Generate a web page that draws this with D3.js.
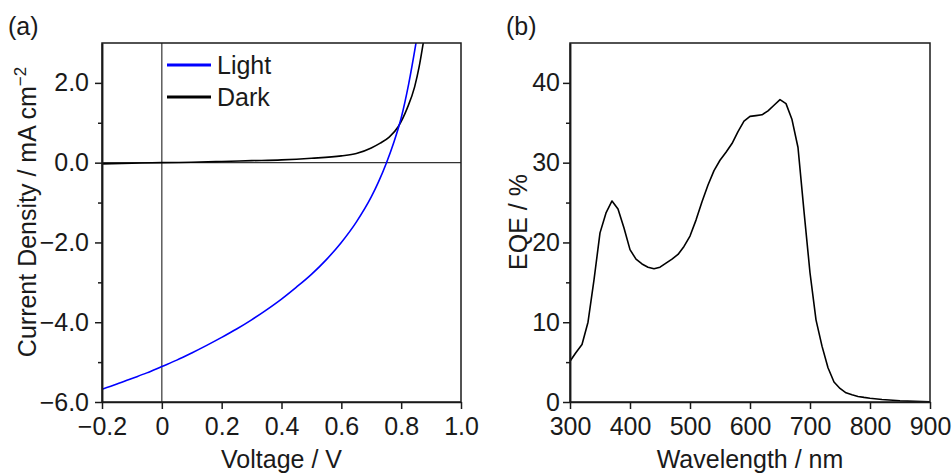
<!DOCTYPE html>
<html>
<head>
<meta charset="utf-8">
<script src="https://cdn.jsdelivr.net/npm/d3@7"></script>
<style>
  html, body { margin: 0; padding: 0; background: #fff; }
  svg text { font-family: "Liberation Sans", Arial, Helvetica, sans-serif; fill: #1a1a1a; }
</style>
</head>
<body>
<svg id="fig" width="952" height="473"></svg>
<script>
// ---- (a) J–V curves ----
const vLight = [-0.20, -0.15, -0.10, -0.05, 0.00, 0.05, 0.10, 0.15, 0.20, 0.25, 0.30, 0.35, 0.40, 0.45, 0.50, 0.55, 0.60, 0.65, 0.70, 0.725, 0.75, 0.775, 0.80, 0.825, 0.85, 0.875];
const jLight = [-5.68, -5.55, -5.41, -5.27, -5.11, -4.95, -4.77, -4.58, -4.38, -4.17, -3.94, -3.69, -3.42, -3.12, -2.80, -2.43, -2.00, -1.49, -0.86, -0.47, -0.02, 0.50, 1.12, 1.97, 3.02, 4.20];
const vDark = [-0.20, -0.10, 0.00, 0.10, 0.20, 0.30, 0.40, 0.50, 0.60, 0.65, 0.70, 0.73, 0.76, 0.79, 0.82, 0.845, 0.86, 0.875, 0.89];
const jDark = [-0.03, -0.015, 0.00, 0.01, 0.03, 0.05, 0.07, 0.11, 0.17, 0.23, 0.37, 0.49, 0.64, 0.90, 1.36, 1.90, 2.40, 3.05, 3.70];
const voltTicks = [-0.2, 0, 0.2, 0.4, 0.6, 0.8, 1.0];
const jTicks = [-6, -4, -2, 0, 2];
const jMinorTicks = [-5, -3, -1, 1];
const jvSeries = ["Light", "Dark"];
const jvColors = ["#0000ff", "#000000"];

// ---- (b) EQE spectrum ----
const wavelength = [300, 310, 320, 330, 340, 350, 360, 370, 380, 390, 400, 410, 420, 430, 440, 450, 460, 470, 480, 490, 500, 510, 520, 530, 540, 550, 560, 570, 580, 590, 600, 610, 620, 630, 640, 650, 660, 670, 680, 690, 700, 710, 720, 730, 740, 750, 760, 770, 780, 790, 800, 820, 850, 875, 900];
const eqe = [5.1, 6.2, 7.2, 10.0, 15.3, 21.2, 23.7, 25.2, 24.2, 21.8, 19.1, 17.9, 17.3, 16.9, 16.7, 16.9, 17.4, 17.9, 18.5, 19.5, 20.8, 22.8, 25.1, 27.2, 29.0, 30.3, 31.3, 32.4, 33.9, 35.2, 35.8, 35.9, 36.0, 36.5, 37.2, 37.9, 37.4, 35.4, 31.9, 23.9, 16.2, 10.3, 7.0, 4.3, 2.5, 1.7, 1.15, 0.9, 0.7, 0.58, 0.48, 0.32, 0.16, 0.08, 0.04];
const wlTicks = [300, 400, 500, 600, 700, 800, 900];
const eqeTicks = [0, 10, 20, 30, 40];
const eqeMinorTicks = [5, 15, 25, 35];

const svg = d3.select("#fig");
const FS = 25;
const ink = "#1a1a1a";

function styleAxis(g) {
  g.selectAll("path").attr("stroke", ink).attr("stroke-width", 1.5);
  g.selectAll("line").attr("stroke", ink).attr("stroke-width", 1.5);
  g.selectAll("text").attr("font-size", FS).attr("fill", ink);
}

function frame(g, w, h) {
  g.append("rect").attr("x", 0).attr("y", 0).attr("width", w).attr("height", h)
    .attr("fill", "none").attr("stroke", ink).attr("stroke-width", 1.5);
}

const minus = s => s.replace("-", "\u2212");

// ================= Panel (a) =================
{
  const L = 102, T = 43, W = 359, H = 359;
  const g = svg.append("g").attr("transform", `translate(${L},${T})`);
  const x = d3.scaleLinear().domain([-0.2, 1.0]).range([0, W]);
  const y = d3.scaleLinear().domain([-6, 3]).range([H, 0]);

  g.append("clipPath").attr("id", "clipA")
    .append("rect").attr("width", W).attr("height", H);

  // zero reference lines
  g.append("line").attr("x1", 0).attr("x2", W).attr("y1", y(0)).attr("y2", y(0))
    .attr("stroke", "#333").attr("stroke-width", 1.2);
  g.append("line").attr("x1", x(0)).attr("x2", x(0)).attr("y1", 0).attr("y2", H)
    .attr("stroke", "#333").attr("stroke-width", 1.2);

  const line = d3.line().curve(d3.curveMonotoneX);
  const curves = [
    { v: vLight, j: jLight, c: jvColors[0] },
    { v: vDark, j: jDark, c: jvColors[1] }
  ];
  curves.slice().reverse().forEach(s => {
    g.append("path")
      .attr("clip-path", "url(#clipA)")
      .attr("d", line(s.v.map((v, i) => [x(v), y(s.j[i])])))
      .attr("fill", "none").attr("stroke", s.c).attr("stroke-width", 1.6);
  });

  // axes
  g.append("g").attr("transform", `translate(0,${H})`)
    .call(d3.axisBottom(x).tickValues(voltTicks).tickSize(7).tickPadding(8).tickSizeOuter(0)
      .tickFormat(d => d === 0 ? "0" : minus(d3.format(".1f")(d))))
    .call(styleAxis);
  g.append("g")
    .call(d3.axisLeft(y).tickValues(jTicks).tickSize(7).tickPadding(6).tickSizeOuter(0)
      .tickFormat(d => minus(d3.format(".1f")(d))))
    .call(styleAxis);
  g.append("g")
    .call(d3.axisLeft(y).tickValues(jMinorTicks).tickSize(4).tickFormat("").tickSizeOuter(0))
    .call(styleAxis);
  frame(g, W, H);

  // legend
  const lg = g.append("g");
  jvSeries.forEach((name, i) => {
    const ly = 22 + i * 32;
    lg.append("line").attr("x1", 65).attr("x2", 109).attr("y1", ly).attr("y2", ly)
      .attr("stroke", jvColors[i]).attr("stroke-width", 3);
    lg.append("text").attr("x", 115).attr("y", ly + 9).attr("font-size", FS).text(name);
  });

  // titles
  svg.append("text").attr("x", L + W / 2).attr("y", 468).attr("text-anchor", "middle")
    .attr("font-size", FS).text("Voltage / V");
  const yt = svg.append("text").attr("transform", "translate(36,212) rotate(-90)")
    .attr("text-anchor", "middle").attr("font-size", FS);
  yt.append("tspan").text("Current Density / mA cm");
  yt.append("tspan").attr("font-size", 17).attr("dy", -10).text("\u22122");
  svg.append("text").attr("x", 8).attr("y", 35).attr("font-size", FS).text("(a)");
}

// ================= Panel (b) =================
{
  const L = 570, T = 43, W = 360, H = 359;
  const g = svg.append("g").attr("transform", `translate(${L},${T})`);
  const x = d3.scaleLinear().domain([300, 900]).range([0, W]);
  const y = d3.scaleLinear().domain([0, 45]).range([H, 0]);

  g.append("path")
    .attr("d", d3.line().curve(d3.curveLinear)(wavelength.map((w, i) => [x(w), y(eqe[i])])))
    .attr("fill", "none").attr("stroke", "#000").attr("stroke-width", 1.6)
    .attr("stroke-linejoin", "round");

  g.append("g").attr("transform", `translate(0,${H})`)
    .call(d3.axisBottom(x).tickValues(wlTicks).tickSize(7).tickPadding(8).tickSizeOuter(0))
    .call(styleAxis);
  g.append("g")
    .call(d3.axisLeft(y).tickValues(eqeTicks).tickSize(7).tickPadding(3).tickSizeOuter(0))
    .call(styleAxis);
  g.append("g")
    .call(d3.axisLeft(y).tickValues(eqeMinorTicks).tickSize(4).tickFormat("").tickSizeOuter(0))
    .call(styleAxis);
  frame(g, W, H);

  svg.append("text").attr("x", L + W / 2).attr("y", 468).attr("text-anchor", "middle")
    .attr("font-size", FS).text("Wavelength / nm");
  svg.append("text").attr("transform", `translate(527,${T + 179}) rotate(-90)`)
    .attr("text-anchor", "middle").attr("font-size", FS).text("EQE / %");
  svg.append("text").attr("x", 506).attr("y", 35).attr("font-size", FS).text("(b)");
}
</script>
</body>
</html>
